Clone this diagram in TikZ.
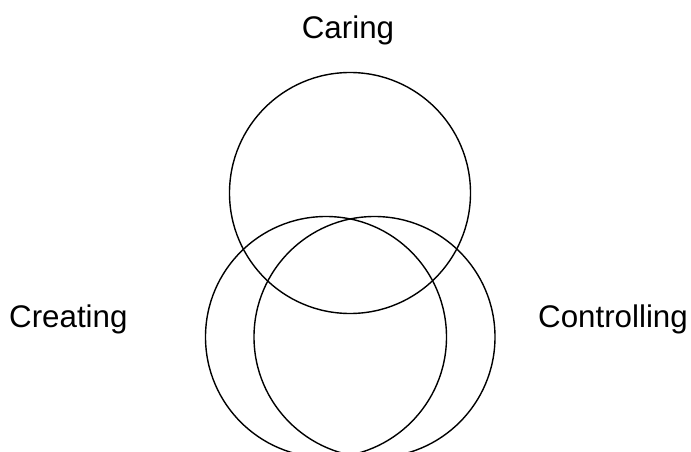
\documentclass[tikz,border=0pt]{standalone}
\usepackage{fontspec}
\setmainfont{Liberation Sans}
\usepackage{tikz}
\usetikzlibrary{positioning}

\begin{document}
\begin{tikzpicture}[
        x=1pt, y=-1pt,
        font=\fontsize{31.3}{37}\selectfont,
        ring/.style      ={draw, circle, line width=1.4pt, minimum size=241pt,
                           inner sep=0pt},
        lbl/.style       ={inner sep=0pt}
    ]
      \useasboundingbox (0,0) rectangle (691,452);
      \clip (0,0) rectangle (691,452);
      % ===== CIRCLES =====
      \node[ring] (care)    at (350,193) {};
      \node[ring] (create)  at (326,337) {};
      \node[ring] (control) at (374.5,337) {};

      % ===== LABELS =====
      \node[lbl, anchor=base]      (caring)      at (348,38.3)  {Caring};
      \node[lbl, anchor=base west] (creating)    at (9,327.5)   {Creating};
      \node[lbl, anchor=base west] (controlling) at (538,327.3) {Controlling};
\end{tikzpicture}
\end{document}
